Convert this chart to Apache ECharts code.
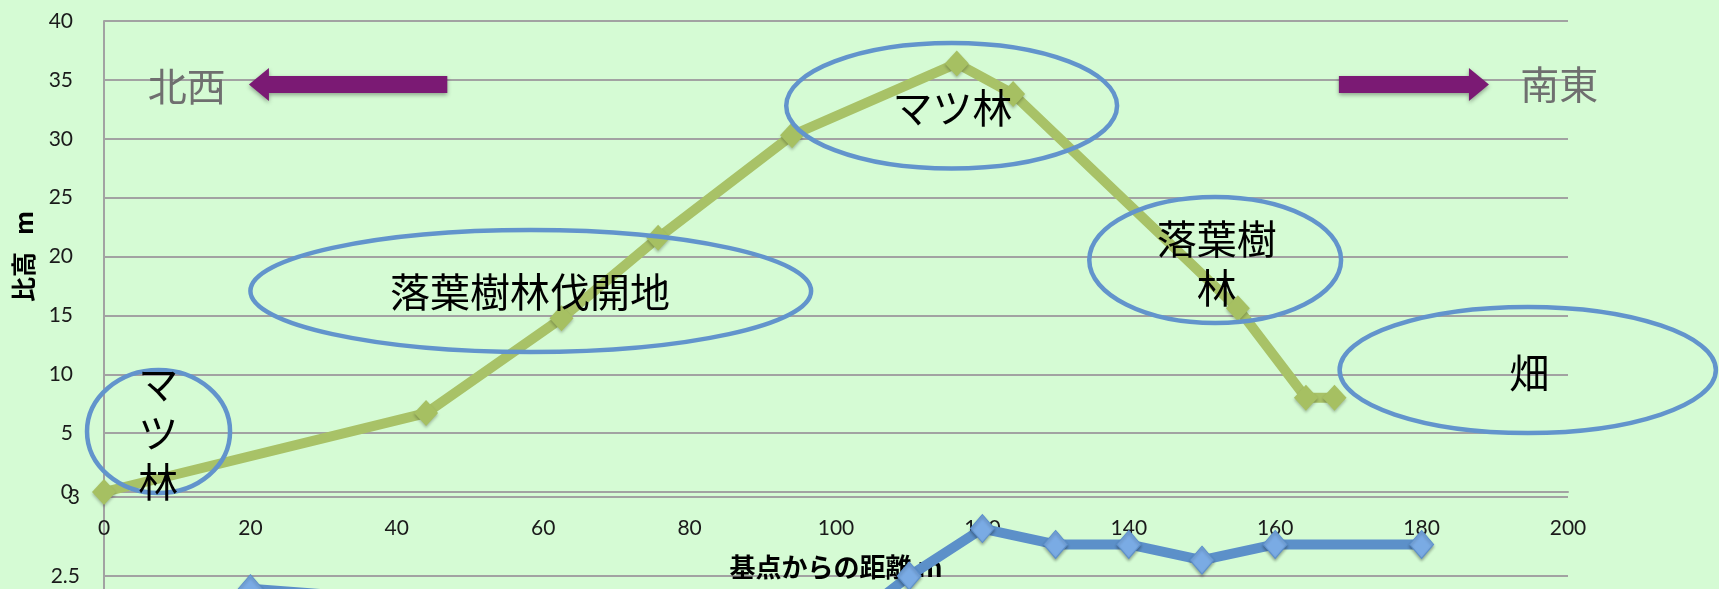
<!DOCTYPE html>
<html><head><meta charset="utf-8">
<script src="https://cdn.jsdelivr.net/npm/echarts@6/dist/echarts.min.js"></script>
<style>html,body{margin:0;padding:0;background:#d5fbd4;overflow:hidden;width:1719px;height:589px;}#c{width:1719px;height:830px;}</style>
</head><body><div id="c"></div>
<script>
// Upper chart: relative height along the transect
const distance = [0, 44, 62.5, 75.7, 94, 116.5, 124.2, 154.9, 164.2, 168.1];
const relHeight = [0, 6.7, 14.75, 21.6, 30.3, 36.4, 33.8, 15.6, 8.0, 8.0];
// Lower chart (only its top is visible)
const distance2 = [20, 100, 110, 120, 130, 140, 150, 160, 180];
const value2 = [2.42, 2.14, 2.5, 2.8, 2.7, 2.7, 2.6, 2.7, 2.7];
// Tick labels
const xTickLabels = [0, 20, 40, 60, 80, 100, 120, 140, 160, 180, 200];
const yTickLabels = [0, 5, 10, 15, 20, 25, 30, 35, 40];
const y2TickLabels = [2.5, 3];
// Texts
const xTitle = '基点からの距離 m';
const yTitle = '比高   m';

const chart = echarts.init(document.getElementById('c'));
const gridColor = '#a2a2a2';
const labelFont = {fontFamily: 'Lato, "Noto Sans CJK JP"', fontSize: 21, color: '#1a1a1a'};

chart.setOption({
  backgroundColor: '#d5fbd4',
  animation: false,
  grid: [
    {left: 104, top: 21, width: 1464, height: 471},
    {left: 104, top: 497, width: 1464, height: 316}
  ],
  xAxis: [
    {type: 'value', gridIndex: 0, min: xTickLabels[0], max: xTickLabels[xTickLabels.length-1],
     interval: xTickLabels[1]-xTickLabels[0],
     axisLine: {show: true, lineStyle: {color: gridColor, width: 2}}, axisTick: {show: false},
     splitLine: {show: false},
     axisLabel: Object.assign({margin: 26}, labelFont),
     name: xTitle, nameLocation: 'middle', nameGap: 62,
     nameTextStyle: {fontFamily: '"Noto Sans CJK JP"', fontWeight: 'bold', fontSize: 26, color: '#000'}},
    {type: 'value', gridIndex: 1, min: 0, max: 200, interval: 20, show: false}
  ],
  yAxis: [
    {type: 'value', gridIndex: 0, min: yTickLabels[0], max: yTickLabels[yTickLabels.length-1],
     interval: yTickLabels[1]-yTickLabels[0],
     axisLine: {show: true, lineStyle: {color: gridColor, width: 2}}, axisTick: {show: false},
     splitLine: {show: true, lineStyle: {color: gridColor, width: 2}},
     axisLabel: Object.assign({margin: 31, padding: [6,0,0,0]}, labelFont),
     name: yTitle, nameLocation: 'middle', nameGap: 68, nameRotate: 90,
     nameTextStyle: {fontFamily: '"Noto Sans CJK JP"', fontWeight: 'bold', fontSize: 25, color: '#000'}},
    {type: 'value', gridIndex: 1, min: 1, max: y2TickLabels[y2TickLabels.length-1],
     interval: y2TickLabels[1]-y2TickLabels[0],
     axisLine: {show: true, lineStyle: {color: gridColor, width: 2}}, axisTick: {show: false},
     splitLine: {show: true, lineStyle: {color: gridColor, width: 2}},
     axisLabel: Object.assign({margin: 24, padding: [6,0,0,0]}, labelFont)}
  ],
  series: [
    {type: 'line', xAxisIndex: 0, yAxisIndex: 0,
     data: distance.map((d, i) => [d, relHeight[i]]),
     symbol: 'diamond', symbolSize: [24, 26],
     lineStyle: {color: '#a8c267', width: 10},
     itemStyle: {color: '#a6c062', shadowColor: 'rgba(0,0,0,0.25)', shadowBlur: 3, shadowOffsetY: 2}},
    {type: 'line', xAxisIndex: 1, yAxisIndex: 1,
     data: distance2.map((d, i) => [d, value2[i]]),
     symbol: 'diamond', symbolSize: [24, 28],
     lineStyle: {color: '#5c90c9', width: 10},
     itemStyle: {color: '#7aabe4', borderColor: '#5c8fcb', borderWidth: 1,
       shadowColor: 'rgba(0,0,0,0.3)', shadowBlur: 3, shadowOffsetY: 2}}
  ]
});

// Annotations, defined in data units of the upper chart
const ellipses = [
  {x: 115.8, y: 32.8, rx: 22.6, ry: 5.33},
  {x: 58.3, y: 17.07, rx: 38.3, ry: 5.18},
  {x: 151.8, y: 19.7, rx: 17.2, ry: 5.35},
  {x: 194.5, y: 10.36, rx: 25.7, ry: 5.35},
  {x: 7.45, y: 5.14, rx: 9.77, ry: 5.22}
];
const labels = [
  {text: 'マツ林', x: 115.9, y: 32.6},
  {text: '落葉樹林伐開地', x: 58.2, y: 17.0},
  {text: '落葉樹\n林', x: 152, y: 19.4},
  {text: '畑', x: 194.7, y: 10.1},
  {text: 'マ\nツ\n林', x: 7.4, y: 5.0}
];
const dirLabels = [
  {text: '北西', x: 11.3, y: 34.5},
  {text: '南東', x: 198.8, y: 34.6}
];
const arrows = [
  {from: 46.9, to: 19.8, y: 34.6},
  {from: 168.7, to: 189.2, y: 34.6}
];

const P = (x, y) => chart.convertToPixel({xAxisIndex: 0, yAxisIndex: 0}, [x, y]);
const g = [];
ellipses.forEach(e => {
  const c = P(e.x, e.y), r = P(e.x + e.rx, e.y + e.ry);
  g.push({type: 'ellipse', z: 100,
    shape: {cx: c[0], cy: c[1], rx: Math.abs(r[0]-c[0]), ry: Math.abs(r[1]-c[1])},
    style: {fill: 'transparent', stroke: '#6294cc', lineWidth: 4.5}});
});
labels.forEach(l => {
  const c = P(l.x, l.y);
  g.push({type: 'text', z: 101, x: c[0], y: c[1],
    style: {text: l.text, font: '40px "Noto Sans CJK JP"', fill: '#000',
      align: 'center', verticalAlign: 'middle', lineHeight: 49}});
});
dirLabels.forEach(l => {
  const c = P(l.x, l.y);
  g.push({type: 'text', z: 101, x: c[0], y: c[1],
    style: {text: l.text, font: '39px "Noto Sans CJK JP"', fill: '#6f6f6f',
      align: 'center', verticalAlign: 'middle'}});
});
arrows.forEach(a => {
  const t = P(a.from, a.y), h = P(a.to, a.y);
  const dir = h[0] > t[0] ? 1 : -1;
  const y = t[1], hl = 20, hw = 16.5, sw = 8.5;
  const b = h[0] - dir * hl;
  g.push({type: 'polygon', z: 100,
    shape: {points: [[h[0], y], [b, y - hw], [b, y - sw], [t[0], y - sw], [t[0], y + sw], [b, y + sw], [b, y + hw]]},
    style: {fill: '#7b1a74', shadowColor: 'rgba(0,0,0,0.35)', shadowBlur: 4, shadowOffsetY: 2}});
});
chart.setOption({graphic: g});
</script>
</body></html>
